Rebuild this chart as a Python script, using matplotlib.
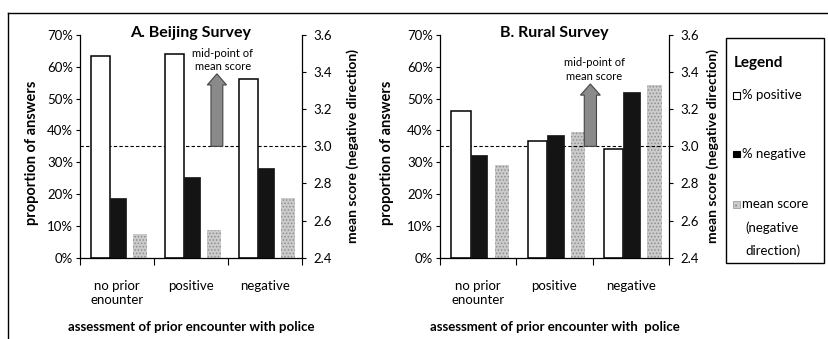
import numpy as np
import matplotlib
matplotlib.use('Agg')
import matplotlib.pyplot as plt
from matplotlib.patches import Rectangle
from matplotlib.lines import Line2D

plt.rcParams['font.family'] = ['Lato', 'DejaVu Sans']
plt.rcParams['hatch.linewidth'] = 0.7

# data
categories = ['no prior\nenounter', 'positive', 'negative']
beijing_pos = [63.4, 64.0, 56.1]    # % positive
beijing_neg = [18.7, 25.5, 28.1]    # % negative
beijing_score = [2.53, 2.55, 2.72]  # mean score (negative direction)
rural_pos = [46.1, 36.7, 34.1]
rural_neg = [32.3, 38.6, 52.2]
rural_score = [2.90, 3.08, 3.33]
midpoint = 3.0

fig = plt.figure(figsize=(8.29, 3.39), dpi=100)
W, H = 829, 339


def px_axes(x0, x1, y0, y1):
    return fig.add_axes([x0 / W, 1 - y1 / H, (x1 - x0) / W, (y1 - y0) / H])


def panel(ax, pos, neg, score, title, xlabel, arrow_x, text_x, text_y, arrow_top, labx):
    x = np.arange(len(categories))
    ax.bar(x - 0.225, pos, width=0.25, color='white', edgecolor='black', linewidth=1.1, zorder=2)
    ax.bar(x + 0.01, neg, width=0.22, color='#141414', edgecolor='#141414', linewidth=0.5, zorder=2)
    ax.set_ylim(0, 70)
    ax.set_xlim(-0.5, 2.5)
    ax.set_yticks(np.arange(0, 71, 10))
    ax.set_yticklabels([f'{v}%' for v in range(0, 71, 10)], fontsize=9.5)
    ax.set_xticks([-0.5, 0.5, 1.5, 2.5])
    ax.set_xticklabels([])
    ax.set_xticks(x, minor=True)
    ax.set_xticklabels(categories, minor=True, fontsize=9.5)
    ax.tick_params(axis='x', which='minor', length=0, pad=16)
    ax.tick_params(axis='x', which='major', length=5, width=0.8)
    ax.tick_params(axis='y', length=3, width=0.8, pad=2)
    for s in ['top', 'right']:
        ax.spines[s].set_visible(False)
    ax.spines['left'].set_linewidth(0.9)
    ax.spines['bottom'].set_linewidth(0.9)
    ax.set_ylabel('proportion of answers', fontsize=10.5, fontweight='bold')
    ax.yaxis.set_label_coords(labx[0], 0.47)
    ax.set_xlabel(xlabel, fontsize=9.5, fontweight='bold', labelpad=11)
    ax.set_title(title, fontsize=11.5, fontweight='bold', y=0.99, pad=0)

    ax2 = ax.twinx()
    ax2.bar(x + 0.31, np.array(score) - 2.4, bottom=2.4, width=0.19, color='#cbcbcb',
            edgecolor='#8f8f8f', linewidth=0, hatch='.....', zorder=2)
    ax2.set_ylim(2.4, 3.6)
    ax2.set_yticks(np.arange(2.4, 3.61, 0.2))
    ax2.set_yticklabels([f'{v:.1f}' for v in np.arange(2.4, 3.61, 0.2)], fontsize=9.5)
    ax2.tick_params(axis='y', length=3, width=0.8, pad=5)
    for s in ['top', 'left', 'bottom']:
        ax2.spines[s].set_visible(False)
    ax2.spines['right'].set_linewidth(0.9)
    ax2.set_ylabel('mean score (negative direction)', fontsize=10, fontweight='bold')
    ax2.yaxis.set_label_coords(labx[1], 0.5)
    ax2.axhline(midpoint, color='black', linestyle=(0, (3, 2)), linewidth=0.8, zorder=3)

    ax.arrow(arrow_x, 35, 0, arrow_top - 35, width=0.16, head_width=0.26, head_length=3.5,
             length_includes_head=True, facecolor='#8a8a8a', edgecolor='#444444',
             linewidth=0.8, zorder=4)
    ax.text(text_x, text_y, 'mid-point of\nmean score', fontsize=8, ha='center', va='top',
            linespacing=1.25)
    ax.set_zorder(ax2.get_zorder() + 1)
    ax.patch.set_visible(False)


axA = px_axes(80, 302, 35, 257.7)
panel(axA, beijing_pos, beijing_neg, beijing_score, 'A. Beijing Survey',
      'assessment of prior encounter with police', 1.35, 1.43, 66, 57.8, (-0.185, 1.2))

axB = px_axes(440, 669, 35, 257.7)
panel(axB, rural_pos, rural_neg, rural_score, 'B. Rural Survey',
      'assessment of prior encounter with  police', 1.47, 1.52, 63, 54.6, (-0.2, 1.165))


# legend box
def fx(v):
    return v / W


def fy(v):
    return 1 - v / H


fig.add_artist(Rectangle((fx(726), fy(263)), fx(824) - fx(726), (263 - 38) / H,
                         transform=fig.transFigure, facecolor='white', edgecolor='black', linewidth=1))
fig.text(fx(734), fy(63), 'Legend', fontsize=11, fontweight='bold', va='center')
hs = 7
fig.add_artist(Rectangle((fx(733), fy(95) - hs / 2 / H), hs / W, hs / H, transform=fig.transFigure,
                         facecolor='white', edgecolor='black', linewidth=0.8))
fig.text(fx(742), fy(95), '% positive', fontsize=9.5, va='center')
fig.add_artist(Rectangle((fx(733), fy(154) - hs / 2 / H), hs / W, hs / H, transform=fig.transFigure,
                         facecolor='black', edgecolor='black', linewidth=0.8))
fig.text(fx(742), fy(154), '% negative', fontsize=9.5, va='center')
fig.add_artist(Rectangle((fx(733), fy(204) - hs / 2 / H), hs / W, hs / H, transform=fig.transFigure,
                         facecolor='#cbcbcb', edgecolor='#8f8f8f', linewidth=0.5, hatch='...'))
fig.text(fx(742), fy(204), 'mean score', fontsize=9.5, va='center')
fig.text(fx(745), fy(228), '(negative', fontsize=9.5, va='center')
fig.text(fx(745), fy(251), 'direction)', fontsize=9.5, va='center')

# outer chart frame
fig.add_artist(Line2D([fx(8), 1], [fy(13), fy(13)], transform=fig.transFigure, color='black', linewidth=1))
fig.add_artist(Line2D([fx(8), fx(8)], [fy(13), 0], transform=fig.transFigure, color='black', linewidth=1))

fig.savefig('out.png', dpi=100)
